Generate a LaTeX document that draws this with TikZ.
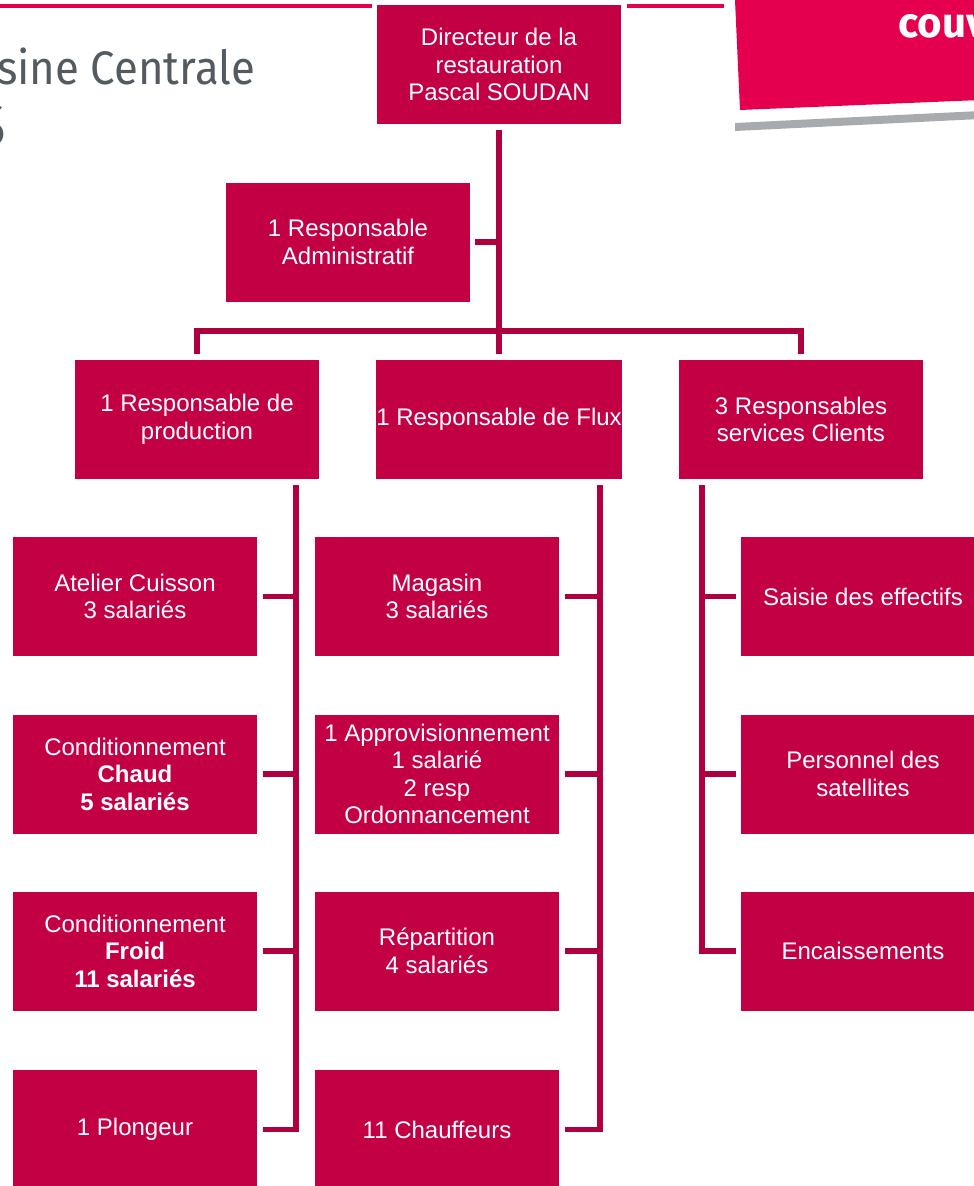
\documentclass[tikz,border=0pt]{standalone}
\usepackage{fontspec}
\setmainfont{Liberation Sans}
\newfontfamily\titlefont{Fira Sans}
\usetikzlibrary{calc}
\definecolor{boxred}{HTML}{C40045}
\definecolor{linered}{HTML}{AE0040}
\definecolor{pink}{HTML}{E4004F}
\definecolor{greyband}{HTML}{A7ABAD}
\definecolor{titlegrey}{HTML}{535B61}
\tikzset{
  orgbox/.style={fill=boxred, text=white, minimum width=244pt, minimum height=119pt,
    inner sep=0pt, align=center, font=\fontsize{24}{27.5}\selectfont},
  conn/.style={draw=linered, line width=5.5pt},
}
\begin{document}
\begin{tikzpicture}[x=1pt, y=-1pt]
\useasboundingbox (0,0) rectangle (974,1186);
\clip (0,0) rectangle (974,1186);
% decorations
\draw[pink, line width=4pt] (0,6) -- (372,6);
\draw[pink, line width=4pt] (627,6) -- (724,6);
\fill[pink] (735,0) -- (980,0) -- (980,100) -- (740,110) -- cycle;
\fill[greyband] (735,123) -- (980,111) -- (980,119) -- (735,131) -- cycle;
\node[anchor=base west, inner sep=0pt, text=white, font=\titlefont\bfseries\fontsize{42}{42}\selectfont] (couv) at (898,37) {couv};
\node[anchor=base east, inner sep=0pt, text=titlegrey, xscale=0.93, font=\titlefont\fontsize{47}{47}\selectfont] (title) at (255,84) {sine Centrale};
\node[anchor=base east, inner sep=0pt, text=titlegrey, font=\titlefont\fontsize{62}{62}\selectfont] (title2) at (6,146) {S};
% boxes
\node[orgbox] (dir) at (499,64.5) {Directeur de la\\restauration\\Pascal SOUDAN};
\node[orgbox] (adm) at (348,242) {1 Responsable\\Administratif};
\node[orgbox] (prod) at (197,419.5) {1 Responsable de\\production};
\node[orgbox] (flux) at (499,419.5) {1 Responsable de Flux};
\node[orgbox] (cli) at (801,419.5) {3 Responsables\\services Clients};
\node[orgbox] (cuis) at (135,596.5) {Atelier Cuisson\\3 salariés};
\node[orgbox] (chaud) at (135,774) {Conditionnement\\\textbf{Chaud}\\\textbf{5 salariés}};
\node[orgbox] (froid) at (135,951) {Conditionnement\\\textbf{Froid}\\\textbf{11 salariés}};
\node[orgbox] (plong) at (135,1129.5) {1 Plongeur};
\node[orgbox] (mag) at (437,596.5) {Magasin\\3 salariés};
\node[orgbox] (appro) at (437,774) {1 Approvisionnement\\1 salarié\\2 resp\\Ordonnancement};
\node[orgbox] (rep) at (437,951) {Répartition\\4 salariés};
\node[orgbox] (chauf) at (437,1129.5) {11 Chauffeurs};
\node[orgbox] (saisie) at (863,596.5) {Saisie des effectifs};
\node[orgbox] (pers) at (863,774) {Personnel des\\satellites};
\node[orgbox] (enc) at (863,951) {Encaissements};
% connectors
\coordinate (j1) at (499,331);
\draw[conn] ($(dir.south)+(0,6)$) -- ($(flux.north)+(0,-6)$);
\draw[conn] ($(prod.north)+(0,-6)$) |- (j1) -| ($(cli.north)+(0,-6)$);
\draw[conn] ($(adm.east)+(5,0)$) -- (adm.east -| j1);
% production spine
\coordinate (ps) at ($(prod.south east)+(-23,6)$);
\draw[conn] (ps) |- ($(plong.east)+(6,0)$);
\draw[conn] ($(cuis.east)+(6,0)$) -- (cuis.east -| ps);
\draw[conn] ($(chaud.east)+(6,0)$) -- (chaud.east -| ps);
\draw[conn] ($(froid.east)+(6,0)$) -- (froid.east -| ps);
% flux spine
\coordinate (fs) at ($(flux.south east)+(-22,6)$);
\draw[conn] (fs) |- ($(chauf.east)+(6,0)$);
\draw[conn] ($(mag.east)+(6,0)$) -- (mag.east -| fs);
\draw[conn] ($(appro.east)+(6,0)$) -- (appro.east -| fs);
\draw[conn] ($(rep.east)+(6,0)$) -- (rep.east -| fs);
% clients spine
\coordinate (cs) at ($(cli.south west)+(23,6)$);
\draw[conn] (cs) |- ($(enc.west)+(-5,0)$);
\draw[conn] ($(saisie.west)+(-5,0)$) -- (saisie.west -| cs);
\draw[conn] ($(pers.west)+(-5,0)$) -- (pers.west -| cs);
\end{tikzpicture}
\end{document}
